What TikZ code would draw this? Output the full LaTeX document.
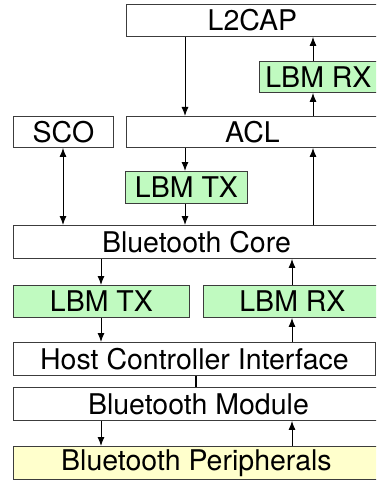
\documentclass[tikz,border=0pt]{standalone}
\usepackage{fontspec}
\setmainfont{TeX Gyre Heros}
\usetikzlibrary{arrows.meta}
\definecolor{lbmgreen}{RGB}{192,250,192}
\definecolor{periyellow}{RGB}{255,255,204}
\definecolor{boxline}{RGB}{60,60,60}
\begin{document}
\begin{tikzpicture}[x=1pt,y=-1pt,
  layer/.style={draw=boxline,line width=0.9pt,fill=white,inner sep=0pt,anchor=north west,
    font=\fontsize{28.5}{30}\selectfont},
  lbm/.style={layer,fill=lbmgreen},
  peri/.style={layer,fill=periyellow},
  arr/.style={-{Latex[length=9pt,width=7pt]},line width=1pt,black},
  dbl/.style={{Latex[length=9pt,width=7pt]}-{Latex[length=9pt,width=7pt]},line width=1pt,black},
  plain/.style={line width=1.3pt,black}]
\useasboundingbox (0,0) rectangle (376,481);
\clip (0,0) rectangle (376,481);
% boxes
\node[layer,minimum width=252pt,minimum height=32pt] (l2cap) at (126,4) {L2CAP};
\node[lbm,minimum width=118pt,minimum height=31pt] (rxtop) at (259,61) {LBM RX};
\node[layer,minimum width=100pt,minimum height=31pt] (sco) at (13,116) {SCO};
\node[layer,minimum width=252pt,minimum height=31pt] (acl) at (126,116) {ACL};
\node[lbm,minimum width=122pt,minimum height=32pt] (txmid) at (125,171) {LBM TX};
\node[layer,minimum width=366pt,minimum height=33pt] (core) at (13,225) {Bluetooth Core};
\node[lbm,minimum width=176pt,minimum height=32pt] (txbot) at (13,285) {LBM TX};
\node[lbm,minimum width=178pt,minimum height=32pt] (rxbot) at (203,285) {LBM RX};
\node[layer,minimum width=362pt,minimum height=33pt] (hci) at (13,342) {Host Controller Interface};
\node[layer,minimum width=370pt,minimum height=33pt] (module) at (13,387) {Bluetooth Module};
\node[peri,minimum width=366pt,minimum height=33pt] (peri) at (13,446) {Bluetooth Peripherals};
% columns
\coordinate (cSco) at (63,0);
\coordinate (cL) at (101,0);
\coordinate (cAcl) at (185,0);
\coordinate (cMid) at (196,0);
\coordinate (cR) at (292,0);
\coordinate (cUp) at (313,0);
% connectors
\draw[arr] (l2cap.south -| cAcl) -- (acl.north -| cAcl);
\draw[arr] (rxtop.north -| cUp) -- (l2cap.south -| cUp);
\draw[arr] (acl.north -| cUp) -- (rxtop.south -| cUp);
\draw[dbl] (sco.south -| cSco) -- (core.north -| cSco);
\draw[arr] (acl.south -| cAcl) -- (txmid.north -| cAcl);
\draw[arr] (txmid.south -| cAcl) -- (core.north -| cAcl);
\draw[arr] (core.north -| cUp) -- (acl.south -| cUp);
\draw[arr] (core.south -| cL) -- (txbot.north -| cL);
\draw[arr] (txbot.south -| cL) -- (hci.north -| cL);
\draw[arr] (rxbot.north -| cR) -- (core.south -| cR);
\draw[arr] (hci.north -| cR) -- (rxbot.south -| cR);
\draw[plain] (hci.south -| cMid) -- (module.north -| cMid);
\draw[arr] (module.south -| cL) -- (peri.north -| cL);
\draw[arr] (peri.north -| cR) -- (module.south -| cR);
\end{tikzpicture}
\end{document}
